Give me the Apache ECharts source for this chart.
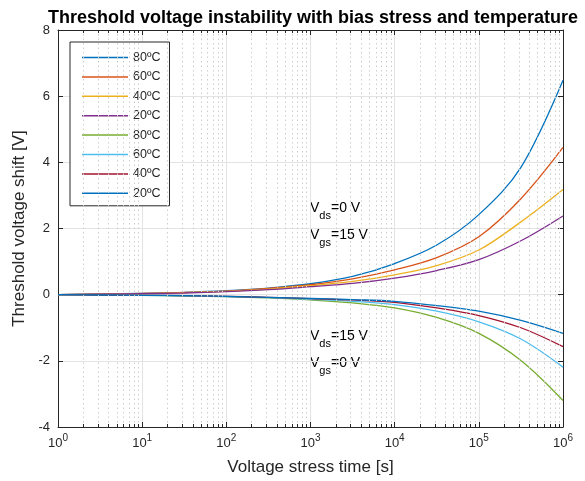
<!DOCTYPE html>
<html>
<head>
<meta charset="utf-8">
<script src="https://cdn.jsdelivr.net/npm/echarts@6/dist/echarts.min.js"></script>
<style>
  html, body { margin: 0; padding: 0; background: #fff; }
  #chart { width: 585px; height: 481px; }
</style>
</head>
<body>
<div id="chart"></div>
<script>
// Stress time samples [s], half-decade steps
const stressTime = [1, 3.162, 10, 31.62, 100, 316.2, 1000, 3162, 10000, 31623, 100000, 316228, 1000000];

// Threshold voltage shift [V], positive bias (Vds = 0 V, Vgs = 15 V)
const posBias80 = [0, 0.02, 0.04, 0.07, 0.12, 0.2, 0.33, 0.55, 0.94, 1.5, 2.42, 3.85, 6.48];
const posBias60 = [0, 0.015, 0.035, 0.065, 0.11, 0.19, 0.3, 0.48, 0.75, 1.12, 1.75, 2.9, 4.45];
const posBias40 = [0, 0.013, 0.03, 0.06, 0.1, 0.17, 0.27, 0.4, 0.6, 0.88, 1.35, 2.2, 3.18];
const posBias20 = [0, 0.012, 0.03, 0.05, 0.09, 0.15, 0.24, 0.34, 0.5, 0.73, 1.06, 1.63, 2.38];

// Threshold voltage shift [V], drain bias (Vds = 15 V, Vgs = 0 V)
const drainBias80 = [0, -0.01, -0.02, -0.04, -0.06, -0.1, -0.16, -0.25, -0.4, -0.69, -1.17, -1.99, -3.2];
const drainBias60 = [0, -0.01, -0.02, -0.035, -0.055, -0.09, -0.14, -0.2, -0.3, -0.5, -0.82, -1.34, -2.19];
const drainBias40 = [0, -0.01, -0.02, -0.03, -0.05, -0.08, -0.12, -0.16, -0.23, -0.4, -0.63, -1.0, -1.57];
const drainBias20 = [0, -0.01, -0.02, -0.03, -0.05, -0.08, -0.11, -0.15, -0.2, -0.33, -0.5, -0.78, -1.17];

const legendLabels = ['80ºC', '60ºC', '40ºC', '20ºC', '80ºC', '60ºC', '40ºC', '20ºC'];
const seriesIds = ['p80', 'p60', 'p40', 'p20', 'd80', 'd60', 'd40', 'd20'];
const seriesValues = [posBias80, posBias60, posBias40, posBias20, drainBias80, drainBias60, drainBias40, drainBias20];
const seriesColors = ['#0072BD', '#D95319', '#EDB120', '#7E2F8E', '#77AC30', '#4DBEEE', '#A2142F', '#0072BD'];

const yTicks = { min: -4, max: 8, step: 2 };

const axisColor = '#262626';
const fontFam = '"Liberation Sans", Arial, Helvetica, sans-serif';

// Minor decade positions (2..9 x 10^k) for dotted grid and inner ticks
const minorX = [];
for (let k = 0; k < 6; k++) {
  for (let m = 2; m <= 9; m++) minorX.push(m * Math.pow(10, k));
}
const minorGrid = minorX.map(v => ({ xAxis: v }));
const minorTicks = [];
minorX.forEach(v => {
  minorTicks.push([{ coord: [v, yTicks.min] }, { coord: [v, yTicks.min + 0.09] }]);
  minorTicks.push([{ coord: [v, yTicks.max] }, { coord: [v, yTicks.max - 0.09] }]);
});

const curves = seriesIds.map((id, i) => ({
  name: id,
  type: 'line',
  xAxisIndex: 0,
  yAxisIndex: 0,
  data: stressTime.map((t, j) => [t, seriesValues[i][j]]),
  smooth: 0.35,
  symbol: 'none',
  color: seriesColors[i],
  lineStyle: { width: 1.3, color: seriesColors[i] },
  z: 3
}));

const chart = echarts.init(document.getElementById('chart'), null, { renderer: 'canvas' });

const labelOf = {};
seriesIds.forEach((id, i) => { labelOf[id] = legendLabels[i]; });

const subText = (main, sub, rest) => `{v|${main}}{s|${sub}}{v|${rest}}`;
const annoRich = {
  v: { fontSize: 14, verticalAlign: 'bottom', padding: [0, 0, 6, 0], fontFamily: fontFam, color: axisColor },
  s: { fontSize: 11, verticalAlign: 'bottom', fontFamily: fontFam, color: axisColor }
};

const boxAxis = {
  axisLine: { show: true, onZero: false, lineStyle: { color: axisColor, width: 1 } },
  axisTick: { show: true, inside: true, length: 5, lineStyle: { color: axisColor } }
};

chart.setOption({
  animation: false,
  backgroundColor: '#fff',
  title: {
    text: 'Threshold voltage instability with bias stress and temperature',
    left: 308, top: 4, textAlign: 'center',
    textStyle: { fontSize: 18, fontWeight: 'bold', color: '#000', fontFamily: fontFam }
  },
  grid: { left: 58, right: 22, top: 30, bottom: 54, containLabel: false },
  legend: {
    data: seriesIds,
    formatter: name => labelOf[name],
    orient: 'vertical',
    left: 70, top: 42,
    padding: [9, 9, 6, 12],
    icon: 'rect',
    itemWidth: 46, itemHeight: 1.5, itemGap: 6.4,
    backgroundColor: '#fff',
    borderColor: axisColor, borderWidth: 1,
    textStyle: { fontSize: 12.5, color: axisColor, fontFamily: fontFam }
  },
  xAxis: [Object.assign({
    type: 'log', logBase: 10, min: 1, max: 1e6, splitNumber: 6,
    name: 'Voltage stress time [s]', nameLocation: 'middle', nameGap: 32,
    nameTextStyle: { fontSize: 17, color: axisColor, fontFamily: fontFam },
    axisLabel: {
      margin: 6,
      formatter: v => `{b|10}{e|${Math.round(Math.log10(v))}}`,
      rich: {
        b: { fontSize: 13, verticalAlign: 'bottom', color: axisColor, fontFamily: fontFam },
        e: { fontSize: 10, verticalAlign: 'bottom', padding: [0, 0, 7, 0], color: axisColor, fontFamily: fontFam }
      }
    },
    splitLine: { show: true, lineStyle: { color: '#e3e3e3', width: 1 } }
  }, boxAxis), Object.assign({
    type: 'log', logBase: 10, min: 1, max: 1e6, splitNumber: 6, position: 'top',
    axisLabel: { show: false }, splitLine: { show: false }
  }, boxAxis)],
  yAxis: [Object.assign({
    type: 'value', min: yTicks.min, max: yTicks.max, interval: yTicks.step,
    name: 'Threshold voltage shift [V]', nameLocation: 'middle', nameGap: 24,
    nameTextStyle: { fontSize: 17, color: axisColor, fontFamily: fontFam },
    axisLabel: { fontSize: 13, color: axisColor, fontFamily: fontFam, margin: 8 },
    splitLine: { show: true, lineStyle: { color: '#e3e3e3', width: 1 } }
  }, boxAxis), Object.assign({
    type: 'value', min: yTicks.min, max: yTicks.max, interval: yTicks.step, position: 'right',
    axisLabel: { show: false }, splitLine: { show: false }
  }, boxAxis)],
  series: [{
    name: 'minor-grid',
    type: 'line',
    data: [[1, 0]],
    symbol: 'none',
    lineStyle: { opacity: 0 },
    silent: true,
    z: 1,
    markLine: {
      silent: true, symbol: 'none', animation: false,
      label: { show: false },
      lineStyle: { type: [1.5, 3], color: '#cdcdcd', width: 1 },
      emphasis: { disabled: true },
      data: minorGrid
    }
  }, {
    name: 'minor-ticks',
    type: 'line',
    data: [[1, 0]],
    symbol: 'none',
    lineStyle: { opacity: 0 },
    silent: true,
    z: 4,
    markLine: {
      silent: true, symbol: 'none', animation: false,
      label: { show: false },
      lineStyle: { type: 'solid', color: axisColor, width: 1 },
      emphasis: { disabled: true },
      data: minorTicks
    }
  }].concat(curves),
  graphic: [
    { type: 'text', left: 310, top: 201, style: { text: subText('V', 'ds', '=0 V'), rich: annoRich } },
    { type: 'text', left: 310, top: 228, style: { text: subText('V', 'gs', '=15 V'), rich: annoRich } },
    { type: 'text', left: 310, top: 329, style: { text: subText('V', 'ds', '=15 V'), rich: annoRich } },
    { type: 'text', left: 310, top: 356, style: { text: subText('V', 'gs', '=0 V'), rich: annoRich } }
  ]
});
</script>
</body>
</html>
